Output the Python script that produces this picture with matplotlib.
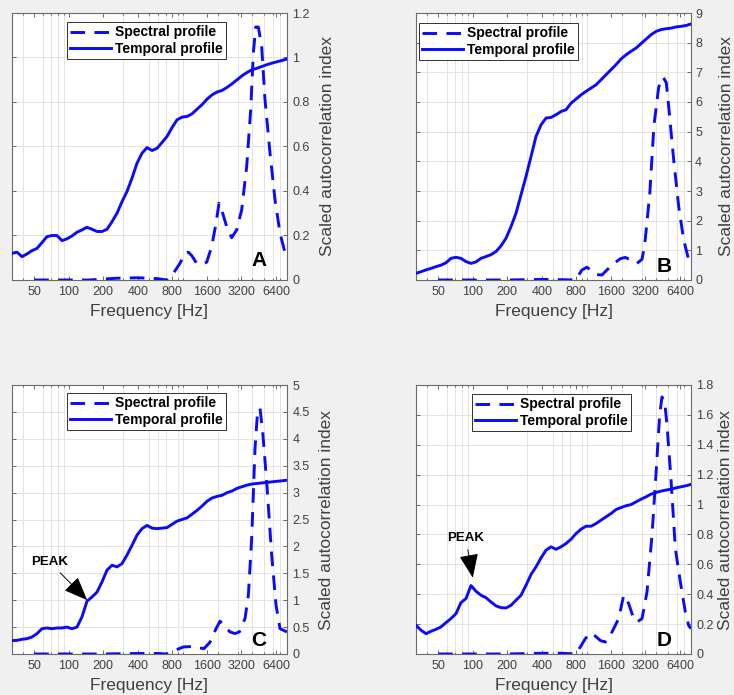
import numpy as np
import matplotlib
matplotlib.use("Agg")
import matplotlib.pyplot as plt
from matplotlib.ticker import LogLocator, NullFormatter, FixedLocator

plt.rcParams['font.family'] = ['Liberation Sans', 'DejaVu Sans']

# ---------------- data ----------------
freq_temporal = [32, 35.4, 39.1, 43.2, 47.8, 52.8, 58.4, 64.6, 71.4, 78.9,
                 87.3, 96.5, 106.7, 118, 130.4, 144.2, 159.5, 176.3, 195, 215.6,
                 238.3, 263.5, 291.3, 322.1, 356.2, 393.8, 435.4, 481.4, 532.3, 588.5,
                 650.7, 719.5, 795.5, 879.6, 972.5, 1075, 1189, 1315, 1453, 1607,
                 1777, 1965, 2172, 2402, 2656, 2936, 3247, 3590, 3969, 4389,
                 4853, 5365, 5932, 6559, 7252, 8000]

temporal_A = [0.12, 0.125, 0.105, 0.117, 0.132, 0.142, 0.168, 0.195, 0.2, 0.2,
              0.177, 0.185, 0.198, 0.215, 0.225, 0.237, 0.228, 0.218, 0.218, 0.228,
              0.262, 0.3, 0.352, 0.398, 0.458, 0.525, 0.57, 0.595, 0.582, 0.592,
              0.618, 0.645, 0.685, 0.72, 0.732, 0.735, 0.747, 0.768, 0.788, 0.813,
              0.832, 0.845, 0.852, 0.866, 0.882, 0.9, 0.918, 0.933, 0.945, 0.952,
              0.96, 0.968, 0.975, 0.981, 0.987, 0.993]
temporal_B = [0.225, 0.28, 0.34, 0.39, 0.45, 0.5, 0.58, 0.73, 0.765, 0.73,
              0.62, 0.56, 0.61, 0.73, 0.79, 0.855, 0.96, 1.15, 1.41, 1.8,
              2.25, 2.87, 3.49, 4.16, 4.84, 5.23, 5.46, 5.48, 5.57, 5.68,
              5.74, 5.96, 6.1, 6.24, 6.36, 6.47, 6.58, 6.75, 6.92, 7.09,
              7.26, 7.45, 7.59, 7.71, 7.82, 7.97, 8.12, 8.27, 8.38, 8.44,
              8.47, 8.49, 8.53, 8.55, 8.58, 8.63]
temporal_C = [0.248, 0.254, 0.273, 0.285, 0.316, 0.378, 0.47, 0.484, 0.47, 0.484,
              0.484, 0.5, 0.47, 0.5, 0.69, 0.98, 1.06, 1.15, 1.34, 1.56,
              1.65, 1.62, 1.68, 1.84, 2.02, 2.21, 2.33, 2.39, 2.34, 2.33,
              2.34, 2.35, 2.41, 2.47, 2.5, 2.53, 2.6, 2.67, 2.75, 2.84,
              2.9, 2.93, 2.95, 3.0, 3.03, 3.08, 3.11, 3.14, 3.16, 3.17,
              3.18, 3.19, 3.2, 3.21, 3.22, 3.23]
temporal_D = [0.192, 0.159, 0.136, 0.152, 0.165, 0.181, 0.21, 0.237, 0.27, 0.344,
              0.371, 0.458, 0.42, 0.393, 0.377, 0.348, 0.322, 0.31, 0.308, 0.326,
              0.36, 0.393, 0.46, 0.532, 0.583, 0.643, 0.695, 0.717, 0.701, 0.717,
              0.739, 0.768, 0.806, 0.835, 0.855, 0.855, 0.873, 0.896, 0.918, 0.94,
              0.967, 0.98, 0.992, 1.0, 1.018, 1.036, 1.052, 1.07, 1.081, 1.09,
              1.097, 1.103, 1.112, 1.119, 1.126, 1.135]

freq_spectral_A = [50, 150, 262, 400, 500, 600, 714, 817, 933, 1032, 1103, 1180, 1305,
                   1443, 1595, 1763, 1924, 2043, 2155, 2382, 2634, 2912, 3220, 3560,
                   3859, 4071, 4265, 4499, 4810, 5145, 5689, 6291, 6955, 7843]
spectral_A = [0.0, 0.0, 0.008, 0.01, 0.008, 0.006, 0.0, 0.03, 0.075, 0.12, 0.125, 0.11,
              0.075, 0.07, 0.08, 0.15, 0.255, 0.345, 0.315, 0.24, 0.19, 0.225, 0.315,
              0.51, 0.765, 1.02, 1.137, 1.137, 1.05, 0.81, 0.57, 0.36, 0.21, 0.105]

freq_spectral_B = [50, 200, 400, 600, 785, 897, 991, 1096, 1212, 1340, 1481, 1694, 1936,
                   2141, 2367, 2706, 2992, 3160, 3495, 3800, 4180, 4570, 4870, 5111,
                   5651, 6248, 6908, 7638, 8000]
spectral_B = [0, 0, 0.02, 0.01, 0, 0.34, 0.43, 0.3, 0.18, 0.17, 0.34, 0.55, 0.72,
              0.76, 0.68, 0.56, 0.7, 1.2, 2.9, 5.2, 6.5, 6.84, 6.65, 5.85,
              4.05, 2.48, 1.35, 0.68, 0.56]

freq_spectral_C = [50, 200, 400, 600, 714, 844, 998, 1180, 1395, 1511, 1705, 1924, 2085,
                   2259, 2547, 2816, 3072, 3444, 3683, 3937, 4208, 4410, 4652, 4909,
                   5319, 5881, 6417, 6955, 8000]
spectral_C = [0, 0, 0.01, 0.01, 0, 0.07, 0.13, 0.14, 0.11, 0.1, 0.22, 0.47, 0.61,
              0.53, 0.41, 0.38, 0.41, 0.66, 1.09, 2.15, 3.82, 4.44, 4.57, 4.13,
              3.2, 1.84, 0.91, 0.47, 0.41]

freq_spectral_D = [50, 200, 400, 600, 785, 867, 959, 1060, 1172, 1296, 1433, 1584, 1872,
                   2070, 2289, 2531, 2706, 2992, 3307, 3656, 3988, 4265, 4470, 4716,
                   4943, 5353, 5842, 6459, 7142, 7638, 8000]
spectral_D = [0, 0, 0.005, 0.005, 0, 0.047, 0.103, 0.14, 0.12, 0.09, 0.08, 0.125, 0.237,
              0.393, 0.337, 0.237, 0.214, 0.237, 0.415, 0.795, 1.24, 1.6, 1.72, 1.69,
              1.53, 1.17, 0.706, 0.482, 0.28, 0.19, 0.17]

x_ticks = [50, 100, 200, 400, 800, 1600, 3200, 6400]
x_tick_labels = ['50', '100', '200', '400', '800', '1600', '3200', '6400']
y_ticks_A = [0, 0.2, 0.4, 0.6, 0.8, 1, 1.2]
y_ticks_B = [0, 1, 2, 3, 4, 5, 6, 7, 8, 9]
y_ticks_C = [0, 0.5, 1, 1.5, 2, 2.5, 3, 3.5, 4, 4.5, 5]
y_ticks_D = [0, 0.2, 0.4, 0.6, 0.8, 1, 1.2, 1.4, 1.6, 1.8]
y_tick_labels_A = ['0', '0.2', '0.4', '0.6', '0.8', '1', '1.2']
y_tick_labels_B = ['0', '1', '2', '3', '4', '5', '6', '7', '8', '9']
y_tick_labels_C = ['0', '0.5', '1', '1.5', '2', '2.5', '3', '3.5', '4', '4.5', '5']
y_tick_labels_D = ['0', '0.2', '0.4', '0.6', '0.8', '1', '1.2', '1.4', '1.6', '1.8']

legend_labels = ['Spectral profile', 'Temporal profile']
x_label = 'Frequency [Hz]'
y_label = 'Scaled autocorrelation index'

# ---------------- figure ----------------
W, H = 734, 695
fig = plt.figure(figsize=(W / 100, H / 100), dpi=100, facecolor='#f0f0f0')

def rect(l, t, r, b):
    return [l / W, 1 - b / H, (r - l) / W, (b - t) / H]

panels = [
    dict(rect=rect(12, 13, 287, 280), ft=freq_temporal, t=temporal_A, fs=freq_spectral_A, s=spectral_A,
         yt=y_ticks_A, ytl=y_tick_labels_A, letter='A', lpos=(259, 260), leg=(67, 22), ylab=1.12, ypad=4.0),
    dict(rect=rect(416, 13, 691, 280), ft=freq_temporal, t=temporal_B, fs=freq_spectral_B, s=spectral_B,
         yt=y_ticks_B, ytl=y_tick_labels_B, letter='B', lpos=(664, 267), leg=(419, 23), ylab=1.10, ypad=3.0),
    dict(rect=rect(12, 385, 287, 654), ft=freq_temporal, t=temporal_C, fs=freq_spectral_C, s=spectral_C,
         yt=y_ticks_C, ytl=y_tick_labels_C, letter='C', lpos=(259, 640), leg=(67, 393), ylab=1.115, ypad=4.0),
    dict(rect=rect(416, 385, 691, 654), ft=freq_temporal, t=temporal_D, fs=freq_spectral_D, s=spectral_D,
         yt=y_ticks_D, ytl=y_tick_labels_D, letter='D', lpos=(664, 640), leg=(472, 394), ylab=1.098, ypad=4.0),
]

blue = '#0a0aff'
axes = []
for p in panels:
    ax = fig.add_axes(p['rect'])
    axes.append(ax)
    ax.set_facecolor('white')
    ax.set_xscale('log')
    ax.set_xlim(32, 8000)
    ax.set_ylim(p['yt'][0], p['yt'][-1])
    l1, = ax.plot(p['fs'], p['s'], color=blue, lw=2.1, linestyle=(0, (5, 3.2)), zorder=3)
    l2, = ax.plot(p['ft'], p['t'], color=blue, lw=2.1, zorder=4)

    ax.xaxis.set_major_locator(FixedLocator(x_ticks))
    ax.set_xticklabels(x_tick_labels)
    ax.xaxis.set_minor_locator(LogLocator(base=10, subs=np.arange(1, 10), numticks=30))
    ax.xaxis.set_minor_formatter(NullFormatter())
    ax.set_yticks(p['yt'])
    ax.set_yticklabels(p['ytl'])
    ax.yaxis.tick_right()
    ax.yaxis.set_label_position('right')

    ax.grid(which='minor', axis='x', color='#e3e3e3', lw=0.7)
    ax.grid(which='major', axis='x', visible=False)
    ax.grid(which='major', axis='y', color='#e3e3e3', lw=0.7)
    ax.set_axisbelow(True)

    ax.tick_params(axis='both', which='both', direction='in', colors='#555555',
                   labelcolor='#404040', labelsize=9, width=0.6)
    ax.tick_params(axis='x', which='both', top=True, bottom=True)
    ax.tick_params(axis='y', which='both', left=True, right=True, labelleft=False, labelright=True)
    ax.tick_params(which='major', length=3)
    ax.tick_params(axis='x', which='major', pad=4.5)
    ax.tick_params(axis='y', which='major', pad=p['ypad'])
    ax.tick_params(which='minor', length=1.6)
    for sp in ax.spines.values():
        sp.set_color('#6a6a6a')
        sp.set_linewidth(0.8)

    ax.set_xlabel(x_label, fontsize=12.5, color='#404040', labelpad=4)
    ax.set_ylabel(y_label, fontsize=12.5, color='#404040')
    ax.yaxis.set_label_coords(p['ylab'], 0.5)

    leg = ax.legend([l1, l2], legend_labels, loc='upper left',
                    bbox_to_anchor=(p['leg'][0] / W, 1 - p['leg'][1] / H),
                    bbox_transform=fig.transFigure, borderaxespad=0,
                    prop={'weight': 'bold', 'size': 10}, handlelength=2.9,
                    handletextpad=0.3, labelspacing=0.15, borderpad=0.25,
                    fancybox=False, framealpha=1, edgecolor='#303030')
    leg.get_frame().set_linewidth(0.7)

    fig.text(p['lpos'][0] / W, 1 - p['lpos'][1] / H, p['letter'], fontsize=15,
             fontweight='bold', ha='center', va='center', color='black')

# PEAK annotations
arrow = dict(arrowstyle='-|>,head_length=1.0,head_width=0.4', color='black', lw=0.7,
             mutation_scale=15, shrinkA=2, shrinkB=0)
axes[2].annotate('PEAK', xy=(145, 1.0), xytext=(68, 1.71), textcoords='data',
                 fontsize=9.5, fontweight='bold', ha='center', va='center',
                 arrowprops=arrow)
axes[3].annotate('PEAK', xy=(100, 0.51), xytext=(87, 0.776), textcoords='data',
                 fontsize=9.5, fontweight='bold', ha='center', va='center',
                 arrowprops=arrow)

fig.savefig('out.png', dpi=100, facecolor=fig.get_facecolor())
